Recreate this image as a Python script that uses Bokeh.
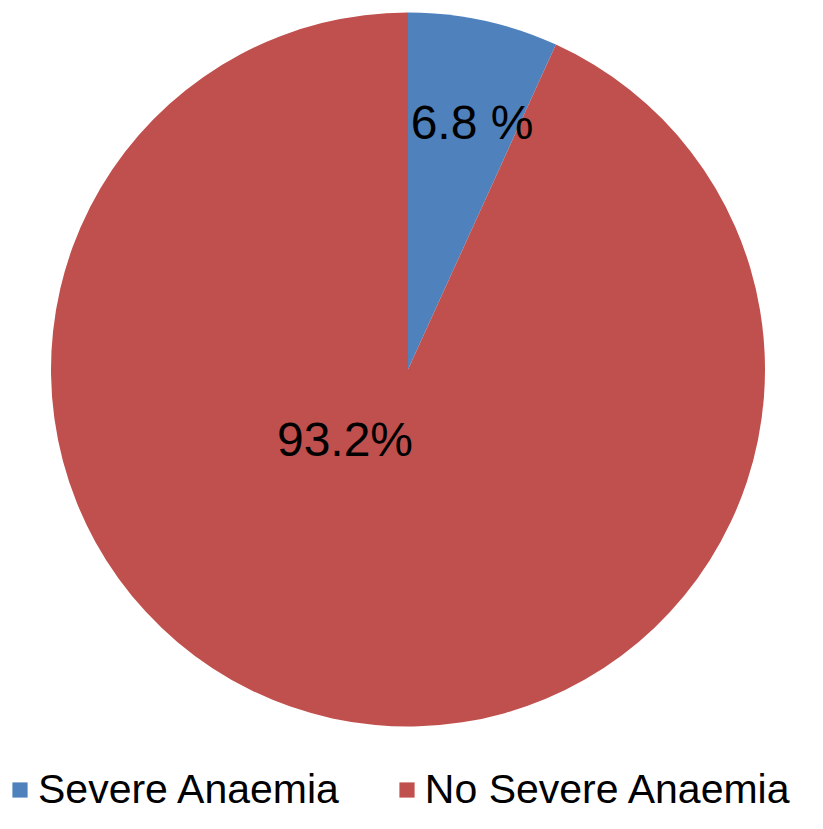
from bokeh.plotting import figure
from bokeh.models import Range1d, ColumnDataSource, Legend, LegendItem
from bokeh.core.properties import value
from bokeh.embed import file_html
from bokeh.resources import INLINE
import math

# ---- data ----
categories = ["Severe Anaemia", "No Severe Anaemia"]
percents = [6.8, 93.2]
label_texts = ["6.8 %", "93.2%"]
colors = ["#4F81BD", "#C0504D"]

# ---- layout (pixel-like data units, y measured upward) ----
W, H = 807, 813
cx, cy, R = 407.5, H - 369, 357
label_offsets = [(64, 247), (-63, -70)]

total = sum(percents)
starts, ends, cum = [], [], 0.0
for v in percents:
    starts.append(math.pi / 2 - 2 * math.pi * cum / total)
    cum += v
    ends.append(math.pi / 2 - 2 * math.pi * cum / total)

src = ColumnDataSource(dict(x=[cx] * len(categories), y=[cy] * len(categories),
                            start=starts, end=ends, color=colors, cat=categories))

p = figure(width=W, height=H, output_backend="svg", toolbar_location=None,
           x_range=Range1d(0, W), y_range=Range1d(0, H),
           min_border=0, outline_line_color=None)
p.axis.visible = False
p.grid.visible = False
p.background_fill_color = "white"
p.border_fill_color = "white"

r = p.wedge(x="x", y="y", radius=R, start_angle="start", end_angle="end",
            direction="clock", fill_color="color", line_color=None, source=src)

lx = [cx + dx for dx, dy in label_offsets]
ly = [cy + dy for dx, dy in label_offsets]
p.text(x=lx, y=ly, text=label_texts, text_align="center", text_baseline="middle",
       text_font=value("Liberation Sans"), text_font_size="48px", text_color="black")

items = [LegendItem(label=categories[i], renderers=[r], index=i) for i in range(len(categories))]
leg = Legend(items=items, orientation="horizontal", location=(10, 0),
             glyph_width=19, glyph_height=19, label_standoff=9, spacing=58,
             padding=0, margin=0, border_line_color=None, background_fill_alpha=0,
             label_text_font="Liberation Sans", label_text_font_size="41px",
             label_text_color="black")
p.add_layout(leg, "center")

open("out.html", "w").write(file_html(p, INLINE))
